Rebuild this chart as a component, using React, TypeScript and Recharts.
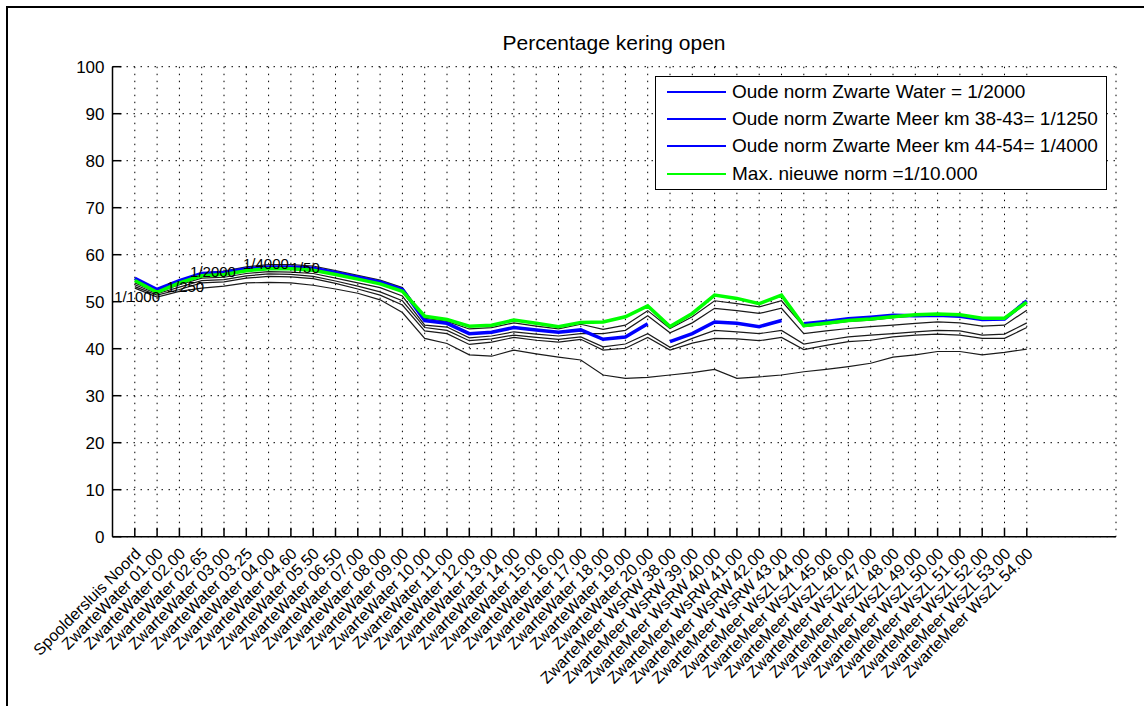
import React from "react";
import { LineChart, Line, XAxis, YAxis, CartesianGrid, Legend, LabelList } from "recharts";

// x categories (kilometre points along the dike)
const categories = [
  "Spooldersluis Noord",
  "ZwarteWater 01.00", "ZwarteWater 02.00", "ZwarteWater 02.65", "ZwarteWater 03.00",
  "ZwarteWater 03.25", "ZwarteWater 04.00", "ZwarteWater 04.60", "ZwarteWater 05.50",
  "ZwarteWater 06.50", "ZwarteWater 07.00", "ZwarteWater 08.00", "ZwarteWater 09.00",
  "ZwarteWater 10.00", "ZwarteWater 11.00", "ZwarteWater 12.00", "ZwarteWater 13.00",
  "ZwarteWater 14.00", "ZwarteWater 15.00", "ZwarteWater 16.00", "ZwarteWater 17.00",
  "ZwarteWater 18.00", "ZwarteWater 19.00", "ZwarteWater 20.00",
  "ZwarteMeer WsRW 38.00", "ZwarteMeer WsRW 39.00", "ZwarteMeer WsRW 40.00",
  "ZwarteMeer WsRW 41.00", "ZwarteMeer WsRW 42.00", "ZwarteMeer WsRW 43.00",
  "ZwarteMeer WsZL 44.00", "ZwarteMeer WsZL 45.00", "ZwarteMeer WsZL 46.00",
  "ZwarteMeer WsZL 47.00", "ZwarteMeer WsZL 48.00", "ZwarteMeer WsZL 49.00",
  "ZwarteMeer WsZL 50.00", "ZwarteMeer WsZL 51.00", "ZwarteMeer WsZL 52.00",
  "ZwarteMeer WsZL 53.00", "ZwarteMeer WsZL 54.00",
];

const maxNieuweNorm = [
  54.5, 52.0, 54.0, 55.5, 55.8, 56.6, 57.0, 57.0, 56.7, 55.8, 54.8, 53.8, 52.2,
  46.9, 46.2, 44.8, 45.0, 46.1, 45.4, 44.7, 45.6, 45.7, 46.8, 49.1,
  44.7, 47.5, 51.4, 50.7, 49.6, 51.4,
  44.9, 45.4, 46.0, 46.3, 46.8, 47.2, 47.4, 47.2, 46.5, 46.5, 49.9,
];

// old norms, each for its own stretch
const waterStart = 0;
const oudeNormWater = [
  55.0, 52.6, 54.5, 56.0, 56.2, 57.0, 57.4, 57.4, 57.1, 56.2, 55.2, 54.2, 52.6,
  46.0, 45.4, 43.2, 43.5, 44.5, 44.0, 43.5, 44.0, 42.0, 42.5, 45.3,
];
const meerRWStart = 24;
const oudeNormMeerRW = [41.5, 43.2, 45.7, 45.4, 44.7, 46.0];
const meerZLStart = 30;
const oudeNormMeerZL = [45.3, 45.8, 46.4, 46.7, 47.1, 47.0, 47.1, 46.9, 46.2, 46.3, 50.2];

const legendNames = [
  "Oude norm Zwarte Water = 1/2000",
  "Oude norm Zwarte Meer km 38-43= 1/1250",
  "Oude norm Zwarte Meer km 44-54= 1/4000",
  "Max. nieuwe norm =1/10.000",
];

// thin black lines
const zwart1 = [
  54.7, 52.3, 54.2, 56.1, 56.5, 57.4, 57.9, 57.9, 57.6, 56.6, 55.6, 54.6, 53.0,
  46.5, 45.8, 44.2, 44.5, 45.5, 44.8, 44.2, 45.2, 44.1, 45.0, 48.1,
  44.3, 46.8, 50.2, 49.6, 48.9, 50.2,
  44.7, 45.2, 45.8, 46.1, 46.6, 47.0, 47.2, 47.0, 46.3, 46.3, 49.7,
];
const zwart2 = [
  54.0, 52.0, 53.6, 55.0, 55.2, 56.0, 56.4, 56.3, 56.0, 55.0, 54.0, 53.0, 51.2,
  45.0, 44.6, 42.3, 42.7, 43.6, 43.1, 42.7, 43.2, 43.2, 43.9, 47.0,
  43.4, 45.5, 48.6, 48.1, 47.5, 48.6,
  43.2, 43.8, 44.3, 44.7, 45.0, 45.4, 45.7, 45.5, 44.8, 45.0, 48.2,
];
const zwart3 = [
  53.6, 51.7, 53.1, 54.5, 54.7, 55.5, 55.9, 55.8, 55.4, 54.4, 53.3, 52.1, 50.2,
  44.5, 43.9, 41.7, 42.1, 42.9, 42.4, 42.0, 42.5, 40.4, 41.0, 43.2,
  40.3, 42.2, 43.9, 43.6, 43.2, 43.9,
  41.0, 41.8, 42.5, 42.9, 43.2, 43.6, 43.9, 43.8, 42.9, 43.1, 45.5,
];
const zwart4 = [
  53.2, 51.4, 52.6, 54.0, 54.2, 55.0, 55.4, 55.3, 54.9, 53.9, 52.7, 51.4, 49.3,
  43.8, 43.2, 40.9, 41.4, 42.4, 41.8, 41.4, 42.0, 39.7, 40.1, 42.4,
  39.7, 41.2, 42.2, 42.1, 41.7, 42.4,
  39.8, 40.7, 41.5, 41.8, 42.5, 42.9, 43.1, 42.9, 42.2, 42.2, 44.5,
];
const zwart5 = [
  52.9, 51.0, 52.2, 52.9, 53.3, 54.0, 54.1, 54.0, 53.5, 52.7, 51.8, 50.4, 47.7,
  42.2, 41.1, 38.7, 38.4, 39.7, 38.9, 38.2, 37.6, 34.4, 33.7, 33.9,
  34.4, 34.9, 35.6, 33.7, 34.0, 34.4,
  35.1, 35.6, 36.2, 36.9, 38.2, 38.7, 39.4, 39.4, 38.7, 39.2, 39.9,
];

const zwartKeys = ["z1", "z2", "z3", "z4", "z5"];
const zwartLabels = ["1/4000", "1/50", "1/2000", "1/250", "1/1000"];
const zwartLabelIndex = [7, 8, 4, 2, 1];
const zwartLabelShift = [[-25, -1], [-8, -6], [-11, -8], [6, -3], [-20, 0]];

const yTicks = [0, 10, 20, 30, 40, 50, 60, 70, 80, 90, 100];
const xTicks = categories.map((_, i) => i);

const seg = (arr: number[], start: number, i: number) =>
  i >= start && i < start + arr.length ? arr[i - start] : null;

const data = categories.map((name, i) => ({
  i,
  name,
  max: maxNieuweNorm[i],
  water: seg(oudeNormWater, waterStart, i),
  rw: seg(oudeNormMeerRW, meerRWStart, i),
  zl: seg(oudeNormMeerZL, meerZLStart, i),
  z1: zwart1[i],
  z2: zwart2[i],
  z3: zwart3[i],
  z4: zwart4[i],
  z5: zwart5[i],
}));

const FONT = "'Liberation Sans', Arial, sans-serif";

const BottomTick = (props: any) => {
  const { x, y, payload } = props;
  const ax = x + 3;
  const ay = y + 14;
  return (
    <g>
      <line x1={x} y1={y} x2={x} y2={y - 9} stroke="#000" strokeWidth={1.5} />
      <text
        x={ax}
        y={ay}
        transform={`rotate(-45 ${ax} ${ay})`}
        textAnchor="end"
        dy="0.35em"
        fontSize={16}
        fontFamily={FONT}
        fill="#000"
      >
        {categories[payload.value]}
      </text>
    </g>
  );
};

const TopTick = (props: any) => {
  const { x, y } = props;
  return <line x1={x} y1={y} x2={x} y2={y + 9} stroke="#000" strokeWidth={1.5} />;
};

const LeftTick = (props: any) => {
  const { x, y, payload } = props;
  return (
    <g>
      <line x1={x} y1={y} x2={x + 9} y2={y} stroke="#000" strokeWidth={1.5} />
      <text x={x - 8} y={y} dy="0.35em" textAnchor="end" fontSize={17} fontFamily={FONT} fill="#000">
        {payload.value}
      </text>
    </g>
  );
};

const RightTick = (props: any) => {
  const { x, y } = props;
  return <line x1={x} y1={y} x2={x - 9} y2={y} stroke="#000" strokeWidth={1.5} />;
};

const LegendBox = (props: any) => {
  const items = (props.payload || [])
    .filter((p: any) => legendNames.includes(p.value))
    .sort((a: any, b: any) => legendNames.indexOf(a.value) - legendNames.indexOf(b.value));
  return (
    <div
      style={{
        width: 450,
        height: 112,
        border: "1.5px solid #000",
        background: "#fff",
        fontFamily: FONT,
        fontSize: 19,
        position: "relative",
      }}
    >
      {items.map((p: any, k: number) => (
        <div
          key={k}
          style={{ position: "absolute", left: 0, top: 2 + k * 27.2, height: 26, display: "flex", alignItems: "center" }}
        >
          <div style={{ marginLeft: 11, width: 59, height: 2, background: p.color }} />
          <span style={{ marginLeft: 6, whiteSpace: "nowrap", color: "#000" }}>{p.value}</span>
        </div>
      ))}
    </div>
  );
};

const lineLabel = (text: string, index: number, dx: number, dy: number) => (props: any) => {
  if (props.index !== index) return null;
  return (
    <text
      x={props.x + dx}
      y={props.y + dy}
      dy="0.35em"
      textAnchor="middle"
      fontSize={15}
      fontFamily={FONT}
      fill="#000"
    >
      {text}
    </text>
  );
};

export default function App() {
  return (
    <div style={{ position: "relative", width: 1144, height: 706, background: "#fff", overflow: "hidden" }}>
      <style>{`body{margin:0;}`}</style>
      <div
        style={{
          position: "absolute",
          left: 6,
          top: 6,
          right: -10,
          bottom: -10,
          borderLeft: "2px solid #000",
          borderTop: "2px solid #000",
        }}
      />
      <div
        style={{
          position: "absolute",
          left: 112,
          width: 1004,
          top: 31,
          textAlign: "center",
          fontFamily: FONT,
          fontSize: 21,
          color: "#000",
        }}
      >
        Percentage kering open
      </div>
      <div style={{ position: "absolute", left: 0, top: 0 }}>
        <LineChart
          width={1144}
          height={706}
          data={data}
          margin={{ top: 66.7, right: 28, left: 52.5, bottom: 19.3 }}
        >
          <CartesianGrid stroke="#000" strokeDasharray="1.5 5.5" strokeWidth={1} />
          <XAxis
            dataKey="i"
            type="number"
            domain={[-1, 44]}
            ticks={xTicks}
            interval={0}
            height={150}
            tickSize={0}
            tickMargin={0}
            tickLine={false}
            axisLine={{ stroke: "#000", strokeWidth: 1.5 }}
            tick={<BottomTick />}
          />
          <XAxis
            xAxisId="top"
            orientation="top"
            dataKey="i"
            type="number"
            domain={[-1, 44]}
            ticks={xTicks}
            interval={0}
            height={0}
            tickSize={0}
            tickMargin={0}
            tickLine={false}
            axisLine={{ stroke: "#000", strokeWidth: 1.5 }}
            tick={<TopTick />}
          />
          <YAxis
            type="number"
            domain={[0, 100]}
            ticks={yTicks}
            interval={0}
            width={60}
            tickSize={0}
            tickMargin={0}
            tickLine={false}
            axisLine={{ stroke: "#000", strokeWidth: 1.5 }}
            tick={<LeftTick />}
          />
          <YAxis
            yAxisId="right"
            orientation="right"
            type="number"
            domain={[0, 100]}
            ticks={yTicks}
            interval={0}
            width={0}
            tickSize={0}
            tickMargin={0}
            tickLine={false}
            axisLine={{ stroke: "#000", strokeWidth: 1.5 }}
            tick={<RightTick />}
          />
          {zwartKeys.map((k, n) => (
            <Line
              key={k}
              dataKey={k}
              stroke="#1a1a1a"
              strokeWidth={1.2}
              dot={false}
              activeDot={false}
              legendType="none"
              isAnimationActive={false}
            >
              <LabelList
                dataKey={k}
                content={lineLabel(zwartLabels[n], zwartLabelIndex[n], zwartLabelShift[n][0], zwartLabelShift[n][1])}
              />
            </Line>
          ))}
          <Line
            dataKey="water"
            name={legendNames[0]}
            stroke="#0000ff"
            strokeWidth={3.5}
            dot={false}
            activeDot={false}
            isAnimationActive={false}
          />
          <Line
            dataKey="rw"
            name={legendNames[1]}
            stroke="#0000ff"
            strokeWidth={3.5}
            dot={false}
            activeDot={false}
            isAnimationActive={false}
          />
          <Line
            dataKey="zl"
            name={legendNames[2]}
            stroke="#0000ff"
            strokeWidth={3.5}
            dot={false}
            activeDot={false}
            isAnimationActive={false}
          />
          <Line
            dataKey="max"
            name={legendNames[3]}
            stroke="#00ff00"
            strokeWidth={3.5}
            dot={false}
            activeDot={false}
            isAnimationActive={false}
          />
          <Legend
            layout="horizontal"
            verticalAlign="middle"
            align="center"
            content={<LegendBox />}
            wrapperStyle={{ left: 655, top: 76, width: 454, height: 116 }}
          />
        </LineChart>
      </div>
    </div>
  );
}
